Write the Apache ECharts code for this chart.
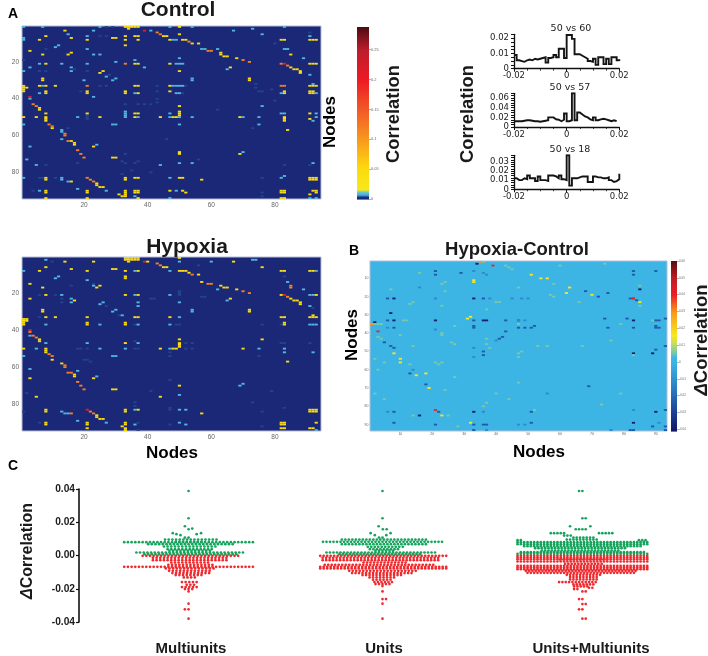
<!DOCTYPE html>
<html><head><meta charset="utf-8">
<style>html,body{margin:0;padding:0;background:#fff}#c{width:708px;height:656px;filter:blur(0.4px)}</style>
<script src="https://cdn.jsdelivr.net/npm/echarts@6/dist/echarts.min.js"></script>
</head><body><div id="c"></div>
<script>
// ---------- heatmap cells, [node x, node y], by colour level ----------
const controlFaint=[[27,1],[29,1],[91,4],[25,6],[27,6],[8,13],[80,10],[1,19],[17,24],[6,25],[8,25],[21,25],[28,27],[25,33],[27,33],[43,33],[52,33],[74,32],[19,36],[43,36],[51,37],[75,36],[76,36],[79,35],[74,34],[80,41],[43,40],[43,42],[33,43],[37,43],[39,43],[41,43],[62,46],[21,49],[21,50],[21,51],[73,56],[15,56],[46,62],[33,70],[32,74],[33,75],[36,75],[37,74],[8,76],[18,75],[56,73],[83,76],[91,76],[35,79],[41,80],[32,81],[6,83],[7,83],[11,83],[76,83],[4,90],[76,91],[76,93]];
const controlBlue=[[7,1],[25,1],[47,1],[54,1],[83,1],[1,1],[41,3],[23,3],[15,5],[67,3],[73,2],[76,5],[91,6],[21,6],[1,7],[1,8],[48,8],[49,8],[57,13],[58,13],[62,13],[83,13],[84,13],[89,18],[91,27],[12,11],[11,12],[21,13],[23,16],[25,16],[30,20],[6,21],[13,21],[21,21],[36,19],[49,21],[50,21],[51,21],[50,18],[3,23],[16,23],[16,25],[1,25],[27,28],[29,30],[30,29],[20,30],[39,23],[54,29],[54,30],[65,24],[7,33],[48,33],[49,33],[50,33],[51,33],[92,32],[6,37],[36,37],[49,37],[50,37],[82,37],[93,37],[3,40],[23,39],[76,44],[33,47],[33,48],[33,49],[33,50],[47,48],[82,48],[83,48],[93,48],[18,50],[37,50],[47,50],[50,50],[54,50],[70,50],[75,50],[92,52],[93,50],[1,54],[29,54],[30,54],[50,54],[75,54],[13,58],[13,57],[13,62],[3,66],[24,65],[70,69],[2,73],[5,76],[44,76],[50,75],[54,75],[92,75],[1,83],[13,83],[13,84],[27,90],[47,83],[82,83],[83,82],[15,85],[18,89],[6,90],[36,93],[47,94],[49,90],[91,94],[93,94]];
const controlYellow=[[33,1],[34,1],[35,1],[36,1],[37,1],[34,2],[50,1],[14,3],[45,6],[46,6],[50,5],[8,6],[6,8],[16,7],[21,8],[29,7],[30,7],[33,6],[33,8],[37,8],[36,6],[37,6],[47,8],[51,8],[52,8],[54,10],[56,10],[63,15],[63,16],[64,17],[65,17],[68,18],[82,8],[83,8],[85,16],[91,8],[92,8],[93,8],[86,24],[87,24],[85,23],[88,25],[88,26],[91,21],[92,21],[93,21],[3,14],[7,16],[15,16],[16,15],[33,11],[8,21],[36,21],[37,21],[47,21],[25,26],[26,25],[50,25],[66,23],[7,29],[7,30],[72,29],[72,30],[6,33],[8,33],[11,33],[36,33],[37,33],[47,33],[91,33],[92,33],[93,33],[1,33],[1,34],[1,35],[1,36],[2,34],[8,36],[8,37],[21,36],[21,37],[33,36],[33,37],[47,36],[37,37],[83,36],[83,37],[91,36],[92,36],[91,37],[92,37],[6,45],[6,46],[50,44],[8,48],[21,48],[36,48],[37,48],[50,47],[50,48],[50,49],[91,48],[1,50],[5,50],[8,50],[8,51],[8,52],[25,50],[36,50],[44,50],[48,50],[49,50],[69,50],[83,50],[83,51],[83,52],[91,51],[10,56],[84,57],[16,63],[17,64],[17,65],[23,66],[50,69],[50,70],[69,70],[29,72],[30,72],[8,83],[8,84],[24,86],[24,87],[25,88],[26,88],[33,83],[33,84],[36,83],[37,83],[50,83],[51,83],[57,84],[91,83],[92,83],[91,84],[92,84],[93,83],[93,84],[16,85],[8,90],[8,91],[8,94],[21,90],[21,91],[21,94],[31,92],[32,93],[33,90],[33,91],[33,92],[33,93],[36,90],[37,90],[36,91],[37,91],[37,94],[47,90],[51,90],[52,91],[82,90],[83,90],[82,91],[83,91],[82,94],[83,94],[91,92],[92,90],[93,90],[93,91]];
const controlOrange=[[43,4],[44,5],[53,9],[59,14],[60,14],[70,19],[72,20],[82,21],[84,22],[33,21],[21,33],[82,33],[83,33],[4,43],[5,44],[9,54],[10,55],[14,59],[14,60],[15,63],[18,68],[19,70],[20,72],[21,83],[22,84],[23,85]];
const controlRed=[[39,3],[83,21],[3,39]];

const hypoxiaFaint=[[10,3],[56,5],[23,15],[16,16],[83,11],[50,19],[50,20],[50,21],[6,21],[11,21],[13,23],[13,25],[57,22],[58,22],[41,23],[42,23],[27,27],[31,32],[92,28],[6,33],[36,37],[49,37],[50,37],[76,37],[82,37],[36,46],[52,47],[54,47],[82,47],[83,47],[91,47],[18,50],[19,50],[21,50],[36,50],[37,50],[52,50],[54,50],[47,52],[47,54],[75,54],[20,56],[21,56],[22,57],[47,67],[2,74],[41,73],[79,73],[73,79],[36,79],[36,81],[1,84],[47,82],[47,83],[76,84],[83,82],[6,90],[37,90],[47,91],[37,94],[76,92]];
const hypoxiaBlue=[[8,2],[50,3],[60,3],[73,2],[74,2],[47,8],[1,8],[36,8],[93,8],[12,11],[11,12],[21,13],[84,14],[23,16],[89,18],[62,18],[13,21],[36,21],[47,21],[91,21],[92,21],[16,23],[16,25],[37,25],[37,27],[25,26],[26,25],[50,25],[65,24],[29,30],[30,29],[32,32],[54,29],[54,30],[91,27],[50,33],[8,37],[25,37],[37,37],[47,37],[91,37],[92,37],[93,37],[3,43],[8,47],[21,47],[37,47],[5,50],[25,50],[33,50],[47,50],[75,50],[83,50],[83,52],[92,52],[1,54],[29,54],[30,54],[18,62],[3,61],[24,65],[69,70],[70,69],[50,75],[13,84],[14,85],[15,85],[27,90],[36,83],[50,83],[52,83],[18,89],[36,91],[50,90],[52,91],[93,94]];
const hypoxiaYellow=[[33,1],[34,1],[35,1],[36,1],[37,1],[33,2],[34,2],[35,2],[36,2],[37,2],[34,3],[50,1],[40,3],[14,3],[23,3],[67,3],[76,6],[45,6],[46,6],[6,8],[8,6],[16,7],[21,8],[29,7],[30,7],[33,8],[33,11],[33,12],[37,8],[50,8],[51,8],[52,8],[53,9],[56,10],[57,14],[63,16],[64,17],[65,17],[68,18],[82,8],[83,8],[91,8],[92,8],[3,15],[7,17],[24,17],[25,16],[8,21],[33,21],[37,21],[82,21],[85,23],[86,24],[87,24],[88,25],[88,26],[93,21],[3,23],[17,24],[66,23],[7,29],[7,30],[72,29],[72,30],[1,34],[1,35],[1,36],[1,37],[2,34],[2,35],[8,33],[11,33],[21,33],[36,33],[37,33],[47,33],[82,33],[83,33],[91,33],[92,33],[92,32],[93,33],[21,36],[21,37],[33,36],[33,37],[83,36],[83,37],[6,45],[6,46],[50,45],[76,45],[33,47],[50,47],[50,48],[50,49],[1,50],[8,50],[8,51],[8,52],[44,50],[48,50],[49,50],[70,50],[10,56],[84,57],[13,58],[17,64],[17,65],[3,66],[23,66],[50,70],[29,72],[30,72],[5,76],[44,76],[8,83],[8,84],[24,86],[24,87],[25,88],[26,88],[33,83],[33,84],[37,83],[57,85],[91,83],[92,83],[91,84],[92,84],[93,83],[93,84],[8,90],[8,91],[21,90],[21,91],[21,93],[33,90],[33,91],[32,92],[33,93],[33,94],[82,90],[83,90],[82,91],[83,91],[82,93],[83,93],[91,93],[92,93],[93,90]];
const hypoxiaOrange=[[43,4],[44,5],[54,10],[59,15],[60,15],[70,19],[72,20],[84,22],[85,16],[85,17],[3,41],[4,43],[5,44],[9,53],[10,54],[14,59],[14,60],[15,63],[16,63],[18,68],[19,70],[20,72],[16,85],[22,84],[23,85]];
const hypoxiaRed=[[39,3],[83,21],[3,40],[21,83]];

const deltaDark=[[29,7],[83,21],[21,6],[21,8],[83,6],[83,8],[90,6],[68,17],[72,20],[75,18],[82,21],[84,22],[6,21],[36,21],[6,33],[47,33],[74,32],[81,32],[33,33],[90,33],[91,33],[93,32],[8,37],[33,36],[33,37],[47,37],[49,37],[51,37],[52,36],[75,37],[83,37],[90,36],[90,37],[91,37],[5,45],[7,47],[8,48],[90,49],[93,47],[36,50],[36,52],[13,62],[18,68],[69,69],[8,83],[22,83],[51,83],[93,82],[8,89],[21,90],[33,90],[36,90],[37,90],[33,93],[51,89],[83,93],[82,93],[89,91],[93,91],[93,93],[43,33],[42,42],[43,39],[41,43]];
const deltaNavy=[[34,2],[8,21],[33,21],[85,16],[7,29],[8,33],[21,33],[36,33],[37,33],[83,33],[2,34],[89,51],[83,51],[16,85],[33,83],[90,83],[83,89]];
const deltaBlue=[[36,7],[33,6],[37,8],[16,15],[38,21],[45,21],[48,21],[50,21],[21,21],[47,33],[49,33],[6,37],[21,38],[40,44],[33,48],[33,53],[14,60],[56,73],[6,83],[36,83],[83,82],[47,90],[49,90],[91,89],[37,93],[76,93]];
const deltaGreen=[[36,1],[43,3],[44,4],[45,5],[60,3],[74,2],[16,7],[58,13],[23,13],[24,12],[24,17],[7,16],[47,15],[85,14],[85,25],[57,19],[58,20],[66,23],[40,23],[41,23],[13,24],[14,23],[23,25],[37,27],[11,33],[12,33],[89,33],[2,35],[3,35],[4,35],[27,36],[47,35],[79,35],[23,40],[23,41],[10,41],[37,43],[3,42],[4,43],[26,45],[14,47],[27,46],[37,46],[38,48],[48,50],[47,51],[47,53],[53,47],[56,47],[67,47],[76,44],[83,52],[2,54],[5,56],[13,57],[21,56],[22,57],[23,56],[3,60],[27,64],[24,71],[47,67],[2,73],[5,76],[40,73],[44,76],[37,78],[36,80],[79,73],[73,79],[14,85],[25,85],[52,82],[28,91]];
const deltaYellow=[[51,8],[54,10],[56,10],[33,11],[33,12],[63,15],[62,18],[70,19],[85,23],[31,32],[32,31],[8,51],[10,54],[10,56],[15,63],[18,62],[19,70],[23,85],[32,89]];
const deltaOrange=[[35,1],[1,35]];
const deltaRed=[[39,3],[83,21],[3,39],[21,82]];

// ---------- cross-correlograms (one value per 1 ms bin) ----------
const hist5060=[.009,.0055,.005,.0045,.0055,.006,.0055,.0065,.006,.0065,.007,.0075,.004,.007,.0075,.009,.0075,.013,.013,.007,.022,.022,.0195,.0095,.0095,.0085,.0075,.0065,.005,.0045,.0065,.0025,.0075,.0075,.003,.0065,.003,.0075,.0075,.0055,.005];
const hist5057=[.012,.012,.012,.013,.014,.014,.013,.012,.012,.011,.012,.013,.014,.02,.02,.016,.015,.012,.015,.028,.012,.014,.07,.014,.03,.026,.022,.02,.016,.014,.02,.014,.016,.017,.016,.014,.012,.014,.012,.012];
const hist5018=[.012,.01,.01,.012,.011,.015,.012,.012,.009,.014,.01,.01,.009,.015,.015,.014,.012,.015,.011,.01,.037,.004,.012,.012,.013,.014,.014,.014,.008,.008,.014,.013,.013,.012,.012,.013,.01,.008,.009,.011,.017,.012];
const ticks5060=[0,.01,.02], ticks5057=[0,.02,.04,.06], ticks5018=[0,.01,.02,.03];

// ---------- swarm rows: [delta correlation, dots in the row, sideways shift in dots] ----------
const multiGreen=[[.0388,1,0],[.0224,1,0],[.0176,1,-1],[.0158,1,0],[.0162,1,1],[.0134,1,-4.3],[.0134,1,3.4],[.0128,1,-3.3],[.0128,1,2.2],[.0122,1,-2.2],[.0108,2,-.5],[.0096,15,.6],[.008,36,0],[.0082,8,0],[.0068,24,.5],[.0054,15,.3],[.0038,13,.3],[.0028,12,.3],[.0018,30,.3],[.0008,26,.5]];
const multiRed=[[-.0002,27,.5],[-.0014,21,.3],[-.0028,21,.3],[-.0042,11,.3],[-.0056,13,.5],[-.0068,36,0],[-.0078,14,.3],[-.0092,12,.2],[-.0106,11,.6],[-.0118,8,0],[-.0132,4,.2],[-.016,5,.2],[-.0176,3,.5],[-.019,5,.2],[-.0202,3,0],[-.0216,1,0],[-.029,1,0],[-.0324,2,-.5],[-.038,1,0]];
const unitGreen=[[.0388,1,0],[.0224,1,0],[.0176,1,-1.1],[.0158,1,.1],[.0158,1,1.2],[.0134,1,-3.4],[.0134,1,2.3],[.0122,1,-2.2],[.0122,1,1.1],[.0108,2,-.5],[.0096,25,.4],[.0082,35,0],[.0068,25,.4],[.0052,11,.8],[.0038,9,.4],[.0028,6,.5],[.0018,32,-.5],[.0008,24,-.8]];
const unitRed=[[-.0002,37,.2],[-.0014,34,-.6],[-.0028,34,-.6],[-.0042,13,.6],[-.0056,32,-1],[-.0068,37,.2],[-.0078,37,.2],[-.0092,20,0],[-.0106,18,-.2],[-.0118,12,-.2],[-.0132,8,-.2],[-.0146,6,-.2],[-.016,6,.2],[-.0172,5,0],[-.0184,1,0],[-.0216,1,0],[-.0262,2,.5],[-.029,1,0],[-.038,1,0]];
const bothGreen=[[.0388,2,-.5],[.0224,2,.5],[.0176,1,-3.7],[.0176,1,2.4],[.0158,4,-.5],[.0134,5,-7.5],[.0134,5,7],[.012,3,-4.5],[.0108,7,.3],[.0096,10,-.2],[.0092,2,-19],[.0092,3,18],[.008,40,0],[.0068,40,0],[.0056,36,0],[.0044,28,-.7],[.003,24,-.7],[.002,38,0],[.001,40,0]];
const bothRed=[[-.0002,40,0],[-.0012,40,0],[-.0022,40,0],[-.0024,15,.3],[-.0036,40,0],[-.005,12,.3],[-.0062,40,0],[-.0072,40,0],[-.0082,40,0],[-.0092,34,-.5],[-.0104,33,-.5],[-.0116,11,.3],[-.013,9,.3],[-.0144,9,.3],[-.016,12,-1.5],[-.0174,7,.3],[-.0186,5,-.5],[-.0194,2,2.5],[-.0202,2,-2],[-.0216,2,.5],[-.0262,2,-.5],[-.0292,2,.5],[-.0324,2,-.5],[-.038,2,.5]];

// ---------- colour stops and level values ----------
const corrStops=[[0,'#1b2878'],[.004,'#1b2878'],[.0045,'#2a5cae'],[.008,'#4cb2e4'],[.012,'#63c3d0'],[.016,'#f7e81b'],[.05,'#fbdc10'],[.06,'#fdd010'],[.1,'#f79a1e'],[.15,'#f15a29'],[.2,'#ed1c24'],[.25,'#be1e2d'],[.288,'#4f0d10']];
const deltaStops=[[-.041,'#121a66'],[-.03,'#1c3f98'],[-.015,'#2a7fc6'],[0,'#3cb5e5'],[.003,'#3cb5e5'],[.006,'#7cc9a8'],[.012,'#cfdf56'],[.016,'#f8e81e'],[.03,'#f7981d'],[.04,'#ec2027'],[.05,'#c11d24'],[.06,'#5c0e12']];
const corrLevels={faint:.0046,blue:.009,yellow:.05,orange:.12,red:.21};
const deltaLevels={navy:-.04,dark:-.024,blue:-.012,green:.006,yellow:.016,orange:.03,red:.04};
const corrTicks=[0,.05,.1,.15,.2,.25], deltaTicks=[-.04,-.03,-.02,-.01,0,.01,.02,.03,.04,.05,.06];

const nodes=n=>Array.from({length:n},(_,i)=>String(i+1));
const lv=(a,v)=>a.map(p=>[p[0]-1,p[1]-1,v]);
function ramp(stops,n){
  const min=stops[0][0],max=stops[stops.length-1][0],hex=h=>[1,3,5].map(i=>parseInt(h.substr(i,2),16)),out=[];
  for(let i=0;i<n;i++){
    const v=min+(max-min)*i/(n-1);let k=0;
    while(k<stops.length-2&&v>stops[k+1][0])k++;
    const t=Math.min(1,(v-stops[k][0])/(stops[k+1][0]-stops[k][0])),a=hex(stops[k][1]),b=hex(stops[k+1][1]);
    out.push('rgb('+a.map((c,j)=>Math.round(c+(b[j]-c)*t)).join(',')+')');
  }
  return out;
}
const corrData=(f,b,y,o,r)=>[...lv(f,corrLevels.faint),...lv(b,corrLevels.blue),...lv(y,corrLevels.yellow),...lv(o,corrLevels.orange),...lv(r,corrLevels.red)];

const grids=[],xAxes=[],yAxes=[],series=[];
function addGrid(g,x,y){grids.push(g);const i=grids.length-1;xAxes.push(Object.assign({gridIndex:i},x));yAxes.push(Object.assign({gridIndex:i},y));return i;}

function cellItem(params,api){
  const c=api.coord([api.value(0),api.value(1)]),s=api.size([1,1]);
  return {type:'rect',shape:{x:c[0]-s[0]/2,y:c[1]-s[1]/2,width:s[0],height:s[1]},style:{fill:api.visual('color')}};
}
function heatAxis(n,step,size,color,margin){return {type:'category',data:nodes(n),axisLine:{show:false},axisTick:{show:false},splitLine:{show:false},splitArea:{show:false},
  axisLabel:{interval:(i,v)=>(+v)%step===0,fontSize:size,color:color,margin:margin,fontFamily:'Liberation Sans'}};}
function addHeat(g,n,step,size,bg,data,margin){
  const i=addGrid(Object.assign({show:true,backgroundColor:bg,borderColor:'#b5bbd6',borderWidth:1},g),heatAxis(n,step,size,'#666',margin),Object.assign(heatAxis(n,step,size,'#666',margin),{inverse:true}));
  series.push({type:'custom',xAxisIndex:i,yAxisIndex:i,encode:{x:0,y:1},data:data,silent:true,renderItem:cellItem});
}
addHeat({left:22,top:26,width:299,height:173},94,20,6.5,'#1b2878',corrData(controlFaint,controlBlue,controlYellow,controlOrange,controlRed),3);
addHeat({left:22,top:257,width:299,height:174},94,20,6.5,'#1b2878',corrData(hypoxiaFaint,hypoxiaBlue,hypoxiaYellow,hypoxiaOrange,hypoxiaRed),3);
addHeat({left:370,top:261,width:297,height:170},93,10,3.5,'#3cb5e5',[...lv(deltaNavy,deltaLevels.navy),...lv(deltaDark,deltaLevels.dark),...lv(deltaBlue,deltaLevels.blue),...lv(deltaGreen,deltaLevels.green),...lv(deltaYellow,deltaLevels.yellow),...lv(deltaOrange,deltaLevels.orange),...lv(deltaRed,deltaLevels.red)],1.5);

// colour bars: a stack of bands in their own value axes
function bandItem(params,api){
  const a=api.coord([0,api.value(0)]),b=api.coord([1,api.value(1)]);
  return {type:'rect',shape:{x:a[0],y:b[1],width:b[0]-a[0],height:a[1]-b[1]+.6},style:{fill:api.visual('color')}};
}
function addBar(g,min,max,ticks,size,count){
  const i=addGrid(g,{type:'value',show:false,min:0,max:1},{type:'value',position:'right',min:min,max:max,splitLine:{show:false},axisLine:{show:false,onZero:false},
    axisTick:{inside:false,length:2,lineStyle:{color:'#666',width:.5},customValues:ticks},
    axisLabel:{customValues:ticks,fontSize:size,color:'#666',margin:2,fontFamily:'Liberation Sans',showMinLabel:true,showMaxLabel:true,formatter:v=>String(+v.toFixed(2))}});
  const step=(max-min)/count,bands=[];
  for(let k=0;k<count;k++)bands.push([min+k*step,min+(k+1)*step,min+(k+.5)*step]);
  series.push({type:'custom',xAxisIndex:i,yAxisIndex:i,encode:{y:[0,1]},data:bands,silent:true,renderItem:bandItem});
}
addBar({left:357,top:27,width:12,height:172},0,.288,corrTicks,4,172);
addBar({left:671,top:261,width:6,height:170},-.041,.06,deltaTicks,3,170);

// correlograms
function addHist(top,h,ymax,ticks,vals,minorN){
  const i=addGrid({left:514,top:top,width:105.3,height:h},
    {type:'value',min:-.02,max:.02,interval:.02,axisLine:{onZero:false,lineStyle:{color:'#111',width:1.3}},splitLine:{show:false},
      axisTick:{length:3,lineStyle:{color:'#111',width:1}},minorTick:{show:true,splitNumber:4,length:2,lineStyle:{color:'#111',width:.8}},minorSplitLine:{show:false},
      axisLabel:{fontSize:8.5,color:'#222',margin:3,fontFamily:'DejaVu Sans',showMinLabel:true,showMaxLabel:true,formatter:v=>String(+v.toFixed(2))}},
    {type:'value',min:0,max:ymax,axisLine:{show:true,onZero:false,lineStyle:{color:'#111',width:1.3}},splitLine:{show:false},
      axisTick:{length:3,lineStyle:{color:'#111',width:1},customValues:Array.from({length:minorN+1},(_,k)=>ymax*k/minorN)},
      axisLabel:{customValues:ticks,fontSize:8.5,lineHeight:9,color:'#222',margin:5,fontFamily:'DejaVu Sans',showMinLabel:true,showMaxLabel:true,hideOverlap:false,formatter:v=>String(+v.toFixed(2))}});
  series.push({type:'line',xAxisIndex:i,yAxisIndex:i,step:'end',showSymbol:false,silent:true,animation:false,
    lineStyle:{color:'#141414',width:1.9,join:'miter'},data:vals.map((v,k)=>[Math.min(.02,-.02+k*.001),v])});
}
addHist(34.3,34.4,.0225,ticks5060,hist5060,9);
addHist(93.3,33.7,.07,ticks5057,hist5057,14);
addHist(155.3,34,.037,ticks5018,hist5018,15);

// swarm
const swarmGrid=addGrid({left:79,top:489,width:600,height:133},
  {type:'value',show:false,min:0,max:171.4},
  {type:'value',min:-.04,max:.04,interval:.02,splitLine:{show:false},axisLine:{show:true,onZero:false,lineStyle:{color:'#111',width:1.6}},
   axisTick:{length:3,lineStyle:{color:'#111',width:1.2}},
   axisLabel:{fontSize:10.2,fontWeight:'bold',color:'#1a1a1a',margin:4,fontFamily:'Liberation Sans',showMinLabel:true,showMaxLabel:true,formatter:v=>v.toFixed(2)}});
function swarm(rows,centre,spread){const out=[];rows.forEach(r=>{for(let i=0;i<r[1];i++)out.push([centre+spread*(r[2]+i-(r[1]-1)/2),r[0]]);});return out;}
const multiC=31.3,unitC=86.7,bothC=143.8;
series.push({type:'scatter',xAxisIndex:swarmGrid,yAxisIndex:swarmGrid,symbolSize:2.7,silent:true,itemStyle:{color:'#16a35c',opacity:1},
  data:[...swarm(multiGreen,multiC,1.05),...swarm(unitGreen,unitC,1),...swarm(bothGreen,bothC,.95)]});
series.push({type:'scatter',xAxisIndex:swarmGrid,yAxisIndex:swarmGrid,symbolSize:2.7,silent:true,itemStyle:{color:'#ee2a2e',opacity:1},
  data:[...swarm(multiRed,multiC,1.05),...swarm(unitRed,unitC,1),...swarm(bothRed,bothC,.95)]});

// texts
function t(text,x,y,size,opt){opt=opt||{};return {type:'text',x:x,y:y,rotation:opt.rot?Math.PI/2:0,silent:true,z:50,
  style:Object.assign({text:text,fill:opt.color||'#1a1a1a',align:'center',verticalAlign:'middle',font:(opt.weight||'bold')+' '+size+'px "'+(opt.family||'Liberation Sans')+'"'},opt.style||{})};}
const deltaRich=s=>({rich:{d:{font:'italic bold '+s+'px "Liberation Sans"',fill:'#1a1a1a'},r:{font:'bold '+s+'px "Liberation Sans"',fill:'#1a1a1a'}},text:'{d|Δ}{r|Correlation}'});
const texts=[
 t('A',13,14,14,{color:'#000'}),t('B',354,251,14,{color:'#000'}),t('C',13,466,14,{color:'#000'}),
 t('Control',178,10,21),t('Hypoxia',187,247,21),t('Hypoxia-Control',517,250,18.5),
 t('Nodes',330,122,17,{rot:1,color:'#000'}),t('Nodes',172,453,17,{color:'#000'}),t('Nodes',352,335,17,{rot:1,color:'#000'}),t('Nodes',539,452,17,{color:'#000'}),
 t('Correlation',394,114,18.4,{rot:1}),t('Correlation',468,114,18.4,{rot:1}),
 t('',702,340,18.5,{rot:1,style:deltaRich(18.5)}),t('',28,551,16,{rot:1,style:deltaRich(16)}),
 t('50 vs 60',571,29,9.5,{weight:'normal',family:'DejaVu Sans'}),t('50 vs 57',570,88,9.5,{weight:'normal',family:'DejaVu Sans'}),t('50 vs 18',570,150,9.5,{weight:'normal',family:'DejaVu Sans'}),
 t('Multiunits',191,649,15),t('Units',384,649,15),t('Units+Multiunits',591,649,15)
];

const chart=echarts.init(document.getElementById('c'),null,{renderer:'canvas'});
chart.setOption({animation:false,backgroundColor:'#fff',grid:grids,xAxis:xAxes,yAxis:yAxes,series:series,graphic:{elements:texts},
 visualMap:[
  {type:'continuous',show:false,seriesIndex:[0,1,3],dimension:2,min:0,max:.288,inRange:{color:ramp(corrStops,145)}},
  {type:'continuous',show:false,seriesIndex:[2,4],dimension:2,min:-.041,max:.06,inRange:{color:ramp(deltaStops,81)}}
 ]});
</script></body></html>
